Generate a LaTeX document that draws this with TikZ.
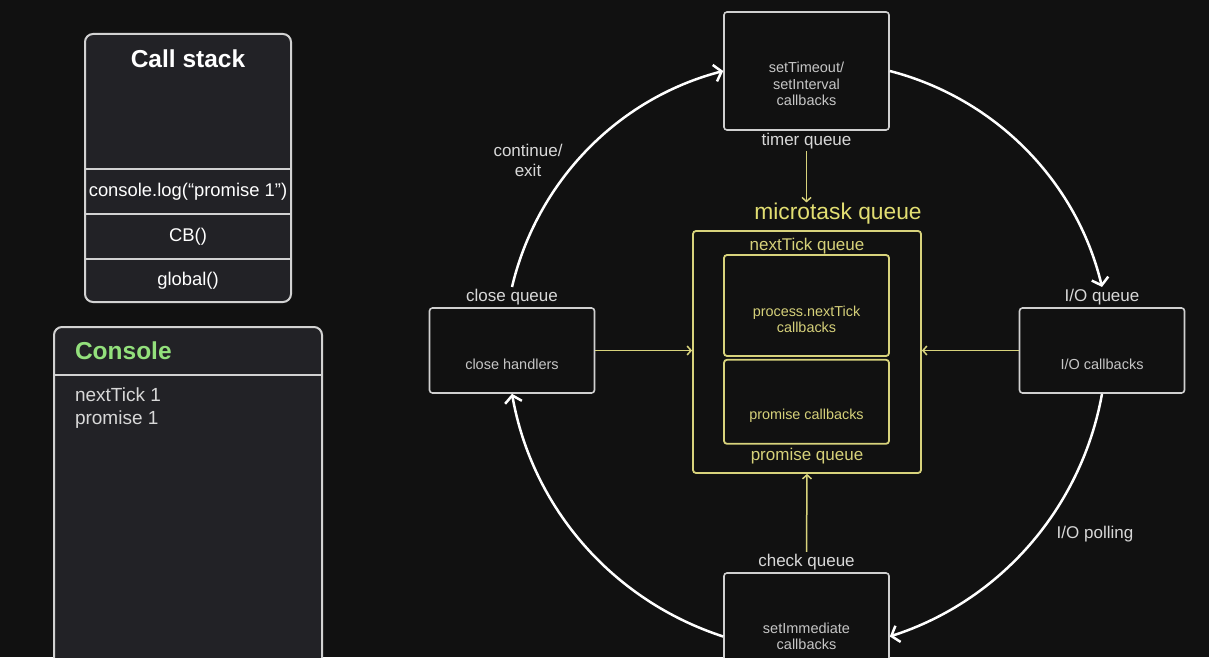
\documentclass[tikz,border=0pt]{standalone}
\usepackage{fontspec}
\setmainfont{Liberation Sans}
\usetikzlibrary{arrows.meta,positioning}

\definecolor{bg}{HTML}{111111}
\definecolor{panelfill}{HTML}{222226}
\definecolor{panelline}{HTML}{D2D2D2}
\definecolor{boxline}{HTML}{D0D0D0}
\definecolor{lbltext}{HTML}{D8D8D8}
\definecolor{smalltext}{HTML}{C6C6C6}
\definecolor{ylw}{HTML}{D8D37C}
\definecolor{ylwtext}{HTML}{D6D17A}
\definecolor{ylwbright}{HTML}{E2DE72}
\definecolor{consolegreen}{HTML}{93E07C}

\begin{document}
\begin{tikzpicture}[x=1pt,y=1pt,
  panel/.style={draw=panelline,line width=2pt,fill=panelfill,rounded corners=8pt},
  frame/.style={minimum width=206pt,minimum height=44.5pt,inner sep=0pt,outer sep=0pt,
    text=white,font=\fontsize{18.4}{22}\selectfont},
  qbox/.style={draw=boxline,line width=1.6pt,fill=bg,rounded corners=3pt,minimum width=165pt},
  ybox/.style={draw=ylw,line width=1.8pt,rounded corners=3pt},
  lbl/.style={text=lbltext,font=\fontsize{17}{20}\selectfont,inner sep=2pt},
  small/.style={text=smalltext,font=\fontsize{14.5}{16.2}\selectfont,align=center},
  ytext/.style={text=ylwtext,font=\fontsize{17}{20}\selectfont,inner sep=2pt},
  ysmall/.style={text=ylwtext,font=\fontsize{14.4}{16.2}\selectfont,align=center},
  loop/.style={draw=white,line width=2.5pt,-{Straight Barb[length=7pt,width=17pt]},
    bend left=31,looseness=0.92},
  feed/.style={draw=ylw,line width=1.5pt,-{Straight Barb[length=4pt,width=9pt]}}]

\fill[bg] (0,0) rectangle (1209,657);
\useasboundingbox (0,0) rectangle (1209,657);

% call stack
\node[panel,minimum width=206pt,minimum height=268pt] (stack) at (188,489) {};
\node[text=white,font=\bfseries\fontsize{24.5}{28}\selectfont] (stacktitle) at (188,598) {Call stack};
\node[frame,above=0pt of stack.south] (frame3) {global()};
\node[frame,above=0pt of frame3] (frame2) {CB()};
\node[frame,above=0pt of frame2] (frame1) {console.log(“promise 1”)};
\foreach \f in {frame1,frame2,frame3}
  \draw[panelline,line width=2pt] (\f.north west) -- (\f.north east);

% console
\node[panel,minimum width=268pt,minimum height=380pt,anchor=north] (console) at (188,331) {};
\node[below=0pt of console.north,minimum width=268pt,minimum height=49pt,inner xsep=21pt,
  inner ysep=2pt,text width=226pt,align=left,text=consolegreen,
  font=\bfseries\fontsize{24.5}{28}\selectfont] (consolehead) {Console};
\draw[panelline,line width=2pt] (consolehead.south west) -- (consolehead.south east);
\node[anchor=north west,inner sep=0pt,align=left,text=lbltext,font=\fontsize{19}{23}\selectfont]
  (output) at ([xshift=21pt,yshift=-12pt]consolehead.south west) {nextTick 1\\promise 1};

% event loop phases
\node[qbox,minimum height=118pt] (timer) at (806.5,586) {};
\node[small] at ([yshift=-13pt]timer.center) {setTimeout/\\setInterval\\callbacks};
\node[lbl,below=0pt of timer] (timerq) {timer queue};

\node[qbox,minimum height=85pt] (close) at (512,306.5) {};
\node[small] at ([yshift=-13.5pt]close.center) {close handlers};
\node[lbl,above=0pt of close] (closeq) {close queue};

\node[qbox,minimum height=85pt] (io) at (1102,306.5) {};
\node[small] at ([yshift=-13.5pt]io.center) {I/O callbacks};
\node[lbl,above=0pt of io] (ioq) {I/O queue};

\node[qbox,minimum height=127pt] (check) at (806.5,20.5) {};
\node[small] at (check.center) {setImmediate\\callbacks};
\node[lbl,above=0pt of check] (checkq) {check queue};

% microtask queue
\node[ybox,minimum width=228pt,minimum height=242pt] (micro) at (807,305) {};
\node[anchor=south east,inner sep=0pt,text=ylwbright,font=\fontsize{22.8}{26}\selectfont]
  (microq) at ([yshift=6pt]micro.north east) {microtask queue};
\node[ytext,below=6pt of micro.north] (tickq) {nextTick queue};
\node[ybox,minimum width=165pt,minimum height=101pt] (tickbox) at (806.5,351.5) {};
\node[ysmall] at ([yshift=-13.5pt]tickbox.center) {process.nextTick\\callbacks};
\node[ybox,minimum width=165pt,minimum height=84pt,below=2pt of tickbox] (promisebox) {};
\node[ysmall] at ([yshift=-14pt]promisebox.center) {promise callbacks};
\node[ytext,above=8pt of micro.south] (promiseq) {promise queue};

\draw[feed] (timerq.south) -- (timerq.south |- microq.north);
\draw[feed] (checkq.north) -- (micro.south);
\draw[feed] (close.east) -- (close.east -| micro.west);
\draw[feed] (io.west) -- (io.west -| micro.east);

% the loop
\draw[loop] (timer.east) to (ioq.north);
\draw[loop] (io.south) to (check.east);
\draw[loop] (check.west) to (close.south);
\draw[loop] (closeq.north) to (timer.west);

\node[lbl,align=center] (contlbl) at (528,497) {continue/\\exit};
\node[lbl] (polllbl) at (1095,123) {I/O polling};
\end{tikzpicture}
\end{document}
